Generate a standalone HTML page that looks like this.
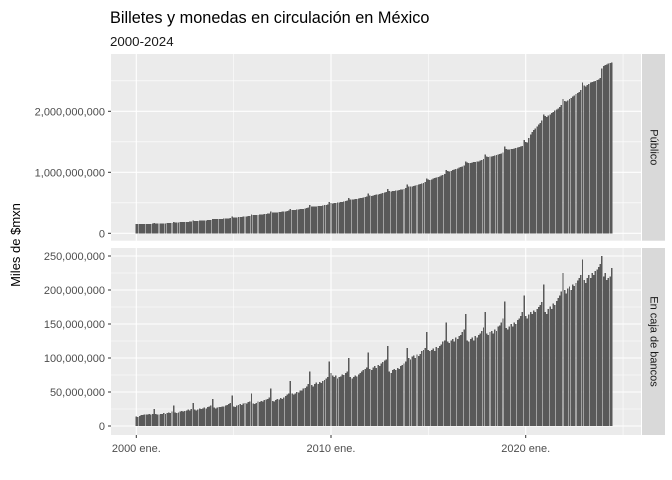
<!DOCTYPE html>
<html><head><meta charset="utf-8"><style>
html,body{margin:0;padding:0;background:#fff;}
svg{display:block;font-family:"Liberation Sans",Arial,sans-serif;}
</style></head><body>
<svg id="chart" width="672" height="480" viewBox="0 0 672 480" xmlns="http://www.w3.org/2000/svg">
<rect width="672" height="480" fill="#fff"/>
<text x="110" y="23" font-size="16.3" fill="#000">Billetes y monedas en circulación en México</text>
<text x="110" y="46" font-size="13.3" fill="#1a1a1a">2000-2024</text>
<text transform="translate(20,245) rotate(-90)" text-anchor="middle" font-size="13" fill="#000">Miles de $mxn</text>
<g id="g"></g>
</svg>
<script>
const publico = [
150,150,151,152,152,153,153,154,155,156,158,168,
160,159,160,162,163,163,164,165,166,168,172,186,
180,180,181,182,183,184,185,186,188,190,194,210,
205,204,205,206,208,209,210,212,214,216,220,238,
232,231,232,234,236,238,240,241,243,246,250,272,
262,261,262,265,267,270,272,274,277,280,285,310,
300,299,301,304,307,310,312,315,318,322,328,358,
342,340,342,345,348,351,354,356,360,364,370,402,
385,383,385,388,391,395,398,402,408,414,420,460,
440,436,438,442,445,448,451,455,460,465,472,515,
495,492,495,499,503,507,511,516,521,527,535,582,
555,552,555,560,565,570,575,580,586,593,602,655,
620,615,620,626,632,638,644,650,658,665,675,730,
690,686,690,695,700,705,710,716,722,730,740,800,
770,765,770,777,784,790,797,805,815,825,840,900,
880,875,885,895,905,915,925,935,945,955,970,1040,
1020,1015,1025,1035,1045,1055,1065,1075,1085,1095,1110,1180,
1160,1150,1155,1160,1165,1170,1175,1180,1190,1200,1215,1290,
1260,1250,1255,1262,1270,1278,1285,1293,1300,1310,1325,1420,
1380,1370,1375,1380,1385,1392,1398,1405,1412,1420,1435,1530,
1500,1490,1560,1620,1660,1690,1720,1750,1780,1810,1850,1950,
1920,1910,1930,1950,1970,1990,2010,2030,2050,2070,2100,2200,
2170,2160,2180,2200,2220,2240,2260,2280,2300,2320,2350,2470,
2420,2410,2430,2450,2470,2480,2490,2500,2510,2520,2550,2700,
2740,2760,2770,2780,2790,2800];
const bancos = [
14,13,15,16,16,17,17,17,18,17,18,25,
18,17,17,18,18,19,18,19,20,19,21,30,
20,19,20,21,22,21,22,23,24,23,25,34,
24,23,24,26,25,26,27,26,28,29,30,40,
27,26,27,28,28,29,29,30,31,32,34,45,
29,28,30,31,32,31,33,34,33,35,36,48,
33,32,34,36,35,37,36,38,39,40,42,55,
37,36,38,40,39,41,40,42,44,46,48,66,
48,46,48,50,49,52,52,55,56,58,62,80,
60,58,62,64,62,65,63,66,68,70,72,95,
78,74,72,74,70,72,73,76,75,78,80,100,
72,70,72,74,73,76,78,80,82,84,86,108,
84,82,86,88,85,90,88,92,94,96,98,118,
80,78,82,84,82,85,84,88,90,92,95,115,
100,98,102,104,100,105,103,106,110,112,115,138,
112,110,112,114,110,116,115,118,120,124,126,152,
124,122,126,128,124,130,128,132,134,138,142,165,
126,124,128,130,126,132,130,134,136,140,145,168,
136,134,138,140,136,142,140,146,148,152,158,183,
144,142,146,150,146,152,150,156,158,162,168,192,
162,158,164,168,165,170,168,172,175,178,182,208,
168,165,172,176,172,180,178,184,188,192,198,225,
200,195,202,205,200,208,206,210,214,218,222,245,
215,210,218,222,218,225,222,228,230,234,238,250,
220,225,215,218,220,232];
const xTickYears = [2000, 2010, 2020];
const xTickLabels = ["2000 ene.", "2010 ene.", "2020 ene."];
const topTicks = [0, 1000, 2000];
const topTickLabels = ["0", "1,000,000,000", "2,000,000,000"];
const botTicks = [0, 50, 100, 150, 200, 250];
const botTickLabels = ["0", "50,000,000", "100,000,000", "150,000,000", "200,000,000", "250,000,000"];

const NS = "http://www.w3.org/2000/svg";
const g = document.getElementById("g");
function el(t, a, p) { const e = document.createElementNS(NS, t); for (const k in a) e.setAttribute(k, a[k]); (p || g).appendChild(e); return e; }
const PL = 111, PR = 641;
const pxYear = 19.47, x0 = 136.3;
const xm = i => x0 + i * pxYear / 12;
const xYear = y => x0 + (y - 2000) * pxYear;
const panels = [
  {name:"publico", data:publico, top:54, bot:240.7, y:v => 233.3 - v * 0.061, ticks:topTicks, labels:topTickLabels, minor:[500,1500,2500], strip:"Público"},
  {name:"bancos", data:bancos, top:248, bot:435, y:v => 426 - v * 0.68, ticks:botTicks, labels:botTickLabels, minor:[25,75,125,175,225], strip:"En caja de bancos"}
];
panels.forEach(p => {
  const pg = el("g", {});
  
  
  el("rect", {x:PL, y:p.top, width:PR-PL, height:p.bot-p.top, fill:"#ebebeb"}, pg);
  p.minor.forEach(v => el("line", {x1:PL, x2:PR, y1:p.y(v), y2:p.y(v), stroke:"#fff", "stroke-width":0.55}, pg));
  [2005, 2015, 2025].forEach(yr => el("line", {x1:xYear(yr), x2:xYear(yr), y1:p.top, y2:p.bot, stroke:"#fff", "stroke-width":0.55}, pg));
  p.ticks.forEach(v => el("line", {x1:PL, x2:PR, y1:p.y(v), y2:p.y(v), stroke:"#fff", "stroke-width":1.1}, pg));
  xTickYears.forEach(yr => el("line", {x1:xYear(yr), x2:xYear(yr), y1:p.top, y2:p.bot, stroke:"#fff", "stroke-width":1.1}, pg));
  const bw = 0.9 * pxYear / 12;
  const bars = el("g", {"shape-rendering":"crispEdges"}, pg);
  p.data.forEach((v, i) => {
    const b = el("rect", {x:xm(i) - bw/2, y:p.y(v), width:bw, height:p.y(0) - p.y(v), fill:"#595959"}, bars);
    
    
  });
  p.ticks.forEach((v, k) => {
    el("line", {x1:PL-3, x2:PL, y1:p.y(v), y2:p.y(v), stroke:"#333", "stroke-width":1}, pg);
    const t = el("text", {x:PL-6, y:p.y(v)+4, "text-anchor":"end", "font-size":"11", fill:"#4d4d4d"}, pg);
    t.textContent = p.labels[k];
    
    
  });
  const s = el("rect", {x:PR+1, y:p.top, width:23, height:p.bot-p.top, fill:"#d9d9d9"}, pg);
  
  
  const cy = (p.top + p.bot) / 2, cx = PR + 12.5;
  const st = el("text", {x:cx, y:cy, transform:`rotate(90 ${cx} ${cy})`, "text-anchor":"middle", "dominant-baseline":"middle", "font-size":"11", fill:"#1a1a1a"}, pg);
  st.textContent = p.strip;
  
  
});
xTickYears.forEach((yr, k) => {
  el("line", {x1:xYear(yr), x2:xYear(yr), y1:435, y2:438, stroke:"#333", "stroke-width":1});
  const t = el("text", {x:xYear(yr), y:452, "text-anchor":"middle", "font-size":"11", fill:"#4d4d4d"});
  t.textContent = xTickLabels[k];
  
  
});
</script>
</body></html>
